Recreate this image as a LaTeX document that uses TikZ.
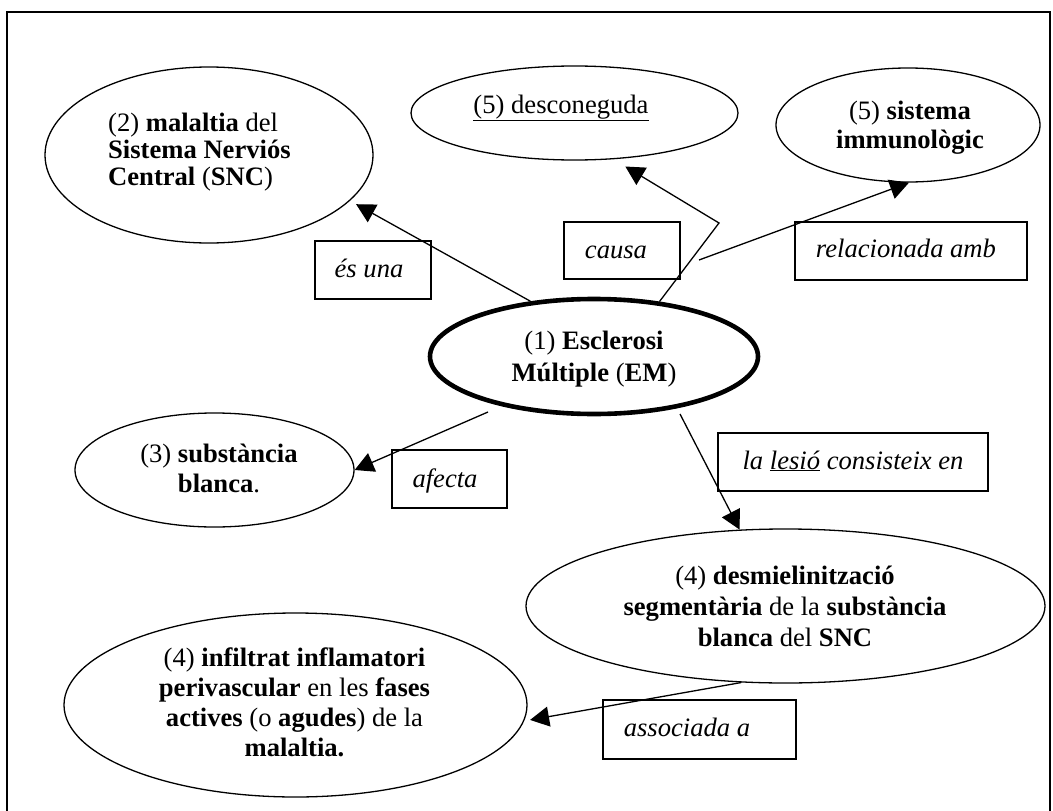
\documentclass[tikz,border=0pt]{standalone}
\usepackage{fontspec}
\setmainfont{Liberation Serif}
\usetikzlibrary{shapes.geometric,arrows.meta}
\begin{document}
\begin{tikzpicture}[x=1pt,y=-1pt,
  ell/.style={draw, ellipse, line width=1.3pt, inner sep=0pt},
  mainell/.style={draw, ellipse, line width=4.6pt, inner sep=0pt},
  box/.style={draw, rectangle, line width=1.5pt, inner sep=0pt},
  txt/.style={inner sep=0pt, align=center},
  lbltxt/.style={inner sep=0pt, anchor=base, font=\fontsize{26.6}{30}\selectfont\itshape},
  conn/.style={line width=1.3pt, -{Triangle[length=19pt,width=20pt]}},
]
\useasboundingbox (0,0) rectangle (1053,811);
\draw[line width=1.5pt] (7,811) -- (7,12) -- (1050,12) -- (1050,811);

% concept ellipses
\node[ell, minimum width=328pt, minimum height=176pt] (n2) at (209,155) {};
\node[ell, minimum width=327pt, minimum height=94pt] (n5a) at (574.5,113) {};
\node[ell, minimum width=264pt, minimum height=114pt] (n5b) at (908,125) {};
\node[mainell, minimum width=328pt, minimum height=115pt] (em) at (594,356.5) {};
\node[ell, minimum width=279pt, minimum height=114pt] (n3) at (214.5,470) {};
\node[ell, minimum width=519pt, minimum height=154pt] (n4a) at (785.5,606) {};
\node[ell, minimum width=463pt, minimum height=184pt] (n4b) at (295.5,705) {};

% texts of the ellipses
\node[txt, anchor=west, align=left, font=\fontsize{26.6}{27}\selectfont] (t2) at (108,151.7)
  {(2) \textbf{malaltia} del\\\textbf{Sistema Nerviós}\\\textbf{Central} (\textbf{SNC})};
\node[txt, anchor=base, font=\fontsize{26.6}{30}\selectfont] (t5a) at (561,113) {\underline{(5) desconeguda}};
\node[txt, font=\fontsize{26.6}{29}\selectfont] (t5b) at (910,127.3) {(5) \textbf{sistema}\\\textbf{immunològic}};
\node[txt, font=\fontsize{26.6}{32}\selectfont] (tem) at (594,358.7) {(1) \textbf{Esclerosi}\\\textbf{Múltiple} (\textbf{EM})};
\node[txt, font=\fontsize{26.6}{30}\selectfont] (t3) at (219,468.8) {(3) \textbf{substància}\\\textbf{blanca}.};
\node[txt, font=\fontsize{26.6}{31}\selectfont] (t4a) at (785,606.8)
  {(4) \textbf{desmielinització}\\\textbf{segmentària} de la \textbf{substància}\\\textbf{blanca} del \textbf{SNC}};
\node[txt, font=\fontsize{26.6}{30}\selectfont] (t4b) at (294.5,702.8)
  {(4) \textbf{infiltrat inflamatori}\\\textbf{perivascular} en les \textbf{fases}\\\textbf{actives} (o \textbf{agudes}) de la\\\textbf{malaltia.}};

% link boxes
\node[box, minimum width=116pt, minimum height=58pt] (bes) at (373,270) {};
\node[lbltxt] (tes) at (369,277) {és una};
\node[box, minimum width=116pt, minimum height=57pt] (bcausa) at (622,250.5) {};
\node[lbltxt] (tcausa) at (616,258) {causa};
\node[box, minimum width=232pt, minimum height=58pt] (brel) at (911,251) {};
\node[lbltxt] (trel) at (906,257) {relacionada amb};
\node[box, minimum width=115pt, minimum height=58pt] (baf) at (449.5,479) {};
\node[lbltxt] (taf) at (445,487) {afecta};
\node[box, minimum width=270pt, minimum height=58pt] (bles) at (853,462) {};
\node[lbltxt] (tles) at (853,469) {la \underline{lesió} consisteix en};
\node[box, minimum width=193pt, minimum height=59pt] (bas) at (699.5,729.5) {};
\node[lbltxt] (tas) at (687,736) {associada a};

% free ends and bend
\coordinate (cbend) at (719,223);
\coordinate (crel) at (699,260);
\coordinate (caf) at (488,412);
\coordinate (cles) at (680,414);

% connectors
\draw[conn, shorten >=7pt] (em.139) -- (n2.-18);
\draw[conn, shorten >=14pt] (em.40) -- (cbend) -- (n5a.-50);
\draw[conn] (crel) -- (n5b.-89);
\draw[conn] (caf) -- (n3.east);
\draw[conn] (cles) -- (n4a.121);
\draw[conn, shorten >=6pt] (n4a.-120) -- (n4b.-4.5);
\end{tikzpicture}
\end{document}
